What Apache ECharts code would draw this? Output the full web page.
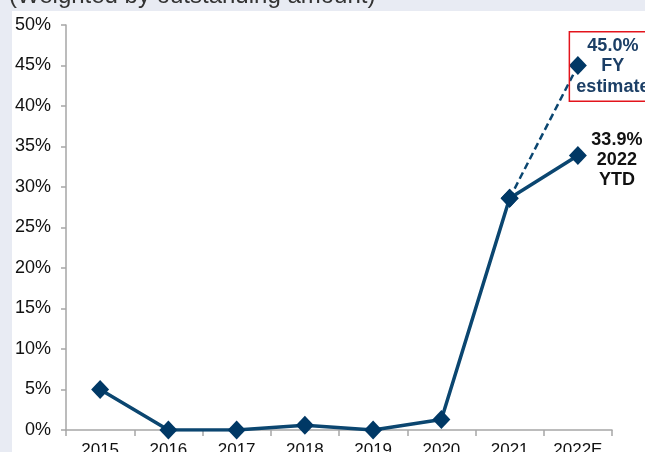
<!DOCTYPE html>
<html>
<head>
<meta charset="utf-8">
<style>
  html, body { margin: 0; padding: 0; background: #e8ebf3; }
  #chart { width: 645px; height: 452px; }
</style>
<script src="https://cdn.jsdelivr.net/npm/echarts@6/dist/echarts.min.js"></script>
</head>
<body>
<div id="chart"></div>
<script>
// Default rates by year (%), weighted by outstanding amount
const categories = ['2015', '2016', '2017', '2018', '2019', '2020', '2021', '2022E'];
const ytdRate = [5.0, 0.0, 0.0, 0.6, 0.0, 1.3, 28.6, 33.9];
const fyEstimate = [null, null, null, null, null, null, 28.6, 45.0];
const yTicks = { min: 0, max: 50, interval: 5 };

const navy = '#003865';
const lineNavy = '#0b4670';
const font = 'Arial, "Liberation Sans", sans-serif';
const last = categories.length - 1;

// Only the final point of each series carries a text label
function withEndLabel(values, labelOpt) {
  return values.map(function (v, i) {
    return i === last ? { value: v, label: Object.assign({ show: true }, labelOpt) } : v;
  });
}

const chart = echarts.init(document.getElementById('chart'));
chart.setOption({
  animation: false,
  backgroundColor: 'transparent',
  graphic: [
    { type: 'rect', z: -10, shape: { x: 12, y: 11, width: 633, height: 441 }, style: { fill: '#ffffff' } },
    { type: 'text', left: 9, top: -16, style: { text: '(Weighted by outstanding amount)', fontSize: 24, fontFamily: font, fill: '#333' } }
  ],
  grid: { left: 66, right: 33, top: 25, bottom: 22, outerBoundsMode: 'none', containLabel: false },
  xAxis: {
    type: 'category',
    data: categories,
    boundaryGap: true,
    axisLine: { lineStyle: { color: '#a6a6a6', width: 1.5 } },
    axisTick: { show: true, length: 6, lineStyle: { color: '#a6a6a6', width: 1.5 } },
    axisLabel: { fontSize: 17, fontFamily: font, color: '#111', margin: 12 }
  },
  yAxis: {
    type: 'value',
    min: yTicks.min, max: yTicks.max, interval: yTicks.interval,
    splitLine: { show: false },
    axisLine: { show: true, lineStyle: { color: '#a6a6a6', width: 1.5 } },
    axisTick: { show: true, length: 5, lineStyle: { color: '#a6a6a6', width: 1.5 } },
    axisLabel: { formatter: '{value}%', fontSize: 18, fontFamily: font, color: '#111', margin: 15 }
  },
  series: [
    {
      name: 'FY estimate',
      type: 'line',
      data: withEndLabel(fyEstimate, {
        position: 'right',
        align: 'center',
        distance: 26,
        offset: [0, 1],
        formatter: function (p) { return p.value.toFixed(1) + '%\nFY\nestimate'; },
        fontSize: 18, fontWeight: 'bold', fontFamily: font, color: '#1c3f66',
        lineHeight: 20.5,
        borderColor: '#e3141c', borderWidth: 1.5,
        padding: [4, 7, 4, 7]
      }),
      z: 2,
      symbol: 'diamond',
      symbolSize: [18, 19],
      showAllSymbol: true,
      lineStyle: { color: lineNavy, width: 2.5, type: [7, 4] },
      itemStyle: { color: navy },
      label: { show: false }
    },
    {
      name: 'YTD',
      type: 'line',
      data: withEndLabel(ytdRate, {
        position: 'right',
        align: 'center',
        distance: 30,
        offset: [0, 5],
        formatter: function (p) { return p.value.toFixed(1) + '%\n2022\nYTD'; },
        fontSize: 18, fontWeight: 'bold', fontFamily: font, color: '#111',
        lineHeight: 20
      }),
      z: 3,
      symbol: 'diamond',
      symbolSize: [18, 19],
      lineStyle: { color: lineNavy, width: 3.5 },
      itemStyle: { color: navy },
      label: { show: false }
    }
  ]
});
</script>
</body>
</html>
